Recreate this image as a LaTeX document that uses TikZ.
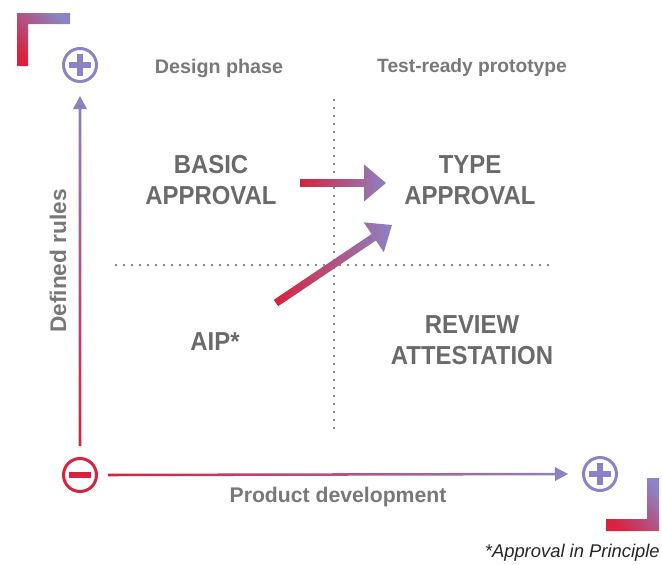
\documentclass[tikz,border=0pt]{standalone}
\usepackage{fontspec}
\setmainfont{Liberation Sans}
\newfontfamily\quadfont[FakeStretch=0.92]{Liberation Sans}
\usepackage{tikz}
\usetikzlibrary{calc}

\definecolor{apred}{HTML}{D8223F}
\definecolor{appurple}{HTML}{8B83C3}
\definecolor{labelgray}{HTML}{787878}
\definecolor{quadgray}{HTML}{6A6A6A}
\definecolor{dotgray}{HTML}{606060}

\tikzset{
  quad/.style={font=\quadfont\bfseries\fontsize{19.5pt}{23.25pt}\selectfont, text=quadgray, align=center, inner sep=0pt},
  phase/.style={font=\bfseries\fontsize{#1}{16pt}\selectfont, text=labelgray, inner sep=0pt},
  phase/.default=14.6pt,
  signplus/.style={circle, draw=appurple, line width=2.25pt, minimum size=24.75pt, inner sep=0pt,
    path picture={\fill[appurple] ([xshift=-8.25pt,yshift=-1.9pt]path picture bounding box.center) rectangle ([xshift=8.25pt,yshift=1.9pt]path picture bounding box.center);
      \fill[appurple] ([xshift=-1.9pt,yshift=-8.25pt]path picture bounding box.center) rectangle ([xshift=1.9pt,yshift=8.25pt]path picture bounding box.center);}},
  signminus/.style={circle, draw=apred, line width=2.25pt, minimum size=24.75pt, inner sep=0pt,
    path picture={\fill[apred] ([xshift=-8.25pt,yshift=-1.9pt]path picture bounding box.center) rectangle ([xshift=8.25pt,yshift=1.9pt]path picture bounding box.center);}},
  gridline/.style={dotgray, line width=1.6pt, line cap=round, dash pattern=on 0pt off 6pt},
  corner/.style={bottom color=apred, top color=appurple, shading angle=-45}
}

% #1 shading, #2 tail, #3 tip, #4 half shaft, #5 head length, #6 half head
\newcommand\gradarrow[6]{%
  \coordinate (hb) at ($(#3)!#5!(#2)$);
  \shade[#1] ($(#2)!#4!90:(#3)$) -- ($(hb)!#4!90:(#3)$) -- ($(hb)!#6!90:(#3)$) -- (#3)
    -- ($(hb)!#6!-90:(#3)$) -- ($(hb)!#4!-90:(#3)$) -- ($(#2)!#4!-90:(#3)$) -- cycle;
}

\begin{document}
\begin{tikzpicture}[x=0.75pt,y=-0.75pt]
\useasboundingbox (0,0) rectangle (662,565);

\shade[corner] (17,66) -- (17,13) -- (70,13) -- (70,24) -- (28,24) -- (28,66) -- cycle;
\shade[corner] (647,478) -- (659,478) -- (659,531) -- (606,531) -- (606,519) -- (647,519) -- cycle;

\draw[gridline] (334,100) -- (334,430);
\draw[gridline] (116,265) -- (555,265);

\node[signplus] (ruleplus) at (80,65) {};
\node[signminus] (origin) at (80,475) {};
\node[signplus] (devplus) at (600,474) {};

\coordinate (ruletail) at ([yshift=8.25pt]origin.north);
\coordinate (ruletip) at ([yshift=-9.75pt]ruleplus.south);
\coordinate (devtail) at ([xshift=7.5pt]origin.east);
\coordinate (devtip) at ([xshift=-10.5pt]devplus.west);
\gradarrow{bottom color=apred, top color=appurple}{ruletail}{ruletip}{0.95pt}{9.75pt}{5.25pt}
\gradarrow{left color=apred, right color=appurple}{devtail}{devtip}{0.95pt}{9.75pt}{5.25pt}

\node[phase=14.8pt] (design) at (219,68) {Design phase};
\node[phase=14.4pt] (proto) at (472,68) {Test-ready prototype};
\node[phase=15.9pt] (product) at (338,497) {Product development};
\node[phase=17pt, rotate=90] (rules) at (58,261) {Defined rules};

\node[quad] (basic) at (211,180) {BASIC\\APPROVAL};
\node[quad] (type) at (470,180) {TYPE\\APPROVAL};
\node[quad] (aip) at (215,342) {AIP*};
\node[quad] (review) at (472,340) {REVIEW\\ATTESTATION};

\coordinate (basictail) at (300,183);
\coordinate (basictip) at (386,183);
\coordinate (aiptail) at (276,303);
\coordinate (aiptip) at (392,225);
\gradarrow{left color=apred, right color=appurple}{basictail}{basictip}{2.9pt}{16.5pt}{13.9pt}
\gradarrow{left color=apred, right color=appurple}{aiptail}{aiptip}{2.9pt}{16.5pt}{13.5pt}

\node[anchor=east, inner sep=0pt, font=\itshape\fontsize{13.8pt}{16pt}\selectfont, text=black!85] (note) at (660,553) {*Approval in Principle};

\end{tikzpicture}
\end{document}
